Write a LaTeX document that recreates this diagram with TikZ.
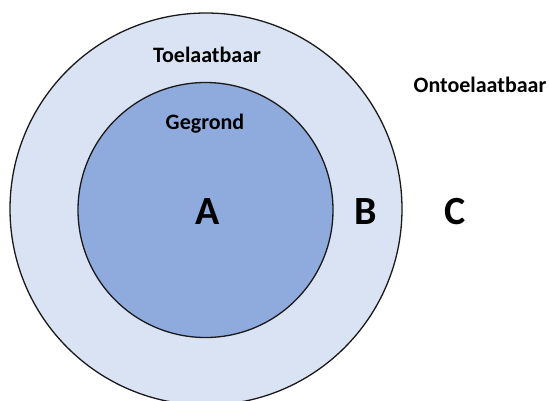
\documentclass[tikz,border=0pt]{standalone}
\usepackage{fontspec}
\setmainfont{Carlito}
\definecolor{outerfill}{HTML}{DAE3F3}
\definecolor{innerfill}{HTML}{8FAADC}
\definecolor{edge}{HTML}{1A1A1A}
\begin{document}
\begin{tikzpicture}[x=1pt,y=-1pt,
  ring/.style={circle, draw=edge, line width=1.3pt, inner sep=0pt},
  lbl/.style={font=\fontsize{22}{25}\selectfont\bfseries, inner sep=0pt},
  big/.style={font=\fontsize{40}{44}\selectfont\bfseries, inner sep=0pt}]
\useasboundingbox (0,0) rectangle (549,400);
\clip (0,0) rectangle (549,400);
\node[ring, fill=outerfill, minimum size=392pt] (outer) at (206,209) {};
\node[ring, fill=innerfill, minimum size=255pt] (inner) at (205.5,210) {};
\node[lbl] (toel) at (207,55) {Toelaatbaar};
\node[lbl] (geg) at (205,124) {Gegrond};
\node[lbl] (ontoel) at (480,85) {Ontoelaatbaar};
\node[big] (a) at (208,212) {A};
\node[big] (b) at (366,212) {B};
\node[big] (c) at (455,212) {C};
\end{tikzpicture}
\end{document}
